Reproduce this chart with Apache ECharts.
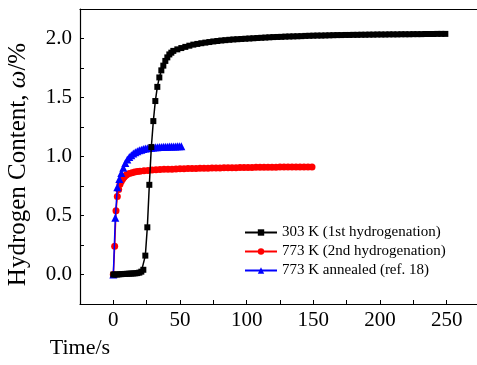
<!DOCTYPE html>
<html>
<head>
<meta charset="utf-8">
<script src="https://cdn.jsdelivr.net/npm/echarts@6/dist/echarts.min.js"></script>
<style>
  html, body { margin: 0; padding: 0; background: #fff; overflow: hidden; }
  #main { width: 477px; height: 365px; }
</style>
</head>
<body>
<div id="main"></div>
<script>
// 303 K (1st hydrogenation)
const t303 = [0, 1.5, 3, 4.5, 6, 7.5, 9, 10.5, 12, 13.5, 15, 16.5, 18, 19.5, 21,
  22.5, 24, 25.5, 27, 28.5, 30, 31.5, 33, 34.5, 36, 37.5, 39, 40.5, 42, 43.5, 45,
  48, 51, 54, 57, 60, 63, 66, 69, 72, 75, 78, 81, 84, 87, 90, 93, 96, 99, 102, 105,
  108, 111, 114, 117, 120, 123, 126, 129, 132, 135, 138, 141, 144, 147, 150, 153,
  156, 159, 162, 165, 168, 171, 174, 177, 180, 183, 186, 189, 192, 195, 198, 201,
  204, 207, 210, 213, 216, 219, 222, 225, 228, 231, 234, 237, 240, 243, 246, 249];
const w303 = [0, 0, 0, 0.002, 0.003, 0.004, 0.005, 0.006, 0.007, 0.008, 0.009, 0.01, 0.012, 0.016, 0.024,
  0.04, 0.16, 0.40, 0.76, 1.08, 1.30, 1.47, 1.59, 1.67, 1.73, 1.77, 1.81, 1.84, 1.865, 1.88, 1.895,
  1.908, 1.919, 1.929, 1.939, 1.948, 1.954, 1.960, 1.965, 1.970, 1.975, 1.979, 1.983, 1.986, 1.989,
  1.992, 1.994, 1.996, 1.998, 2.000, 2.002, 2.004, 2.006, 2.008, 2.010, 2.012, 2.013, 2.014, 2.016,
  2.017, 2.018, 2.019, 2.020, 2.022, 2.023, 2.024, 2.025, 2.025, 2.026, 2.027, 2.028, 2.029, 2.029,
  2.030, 2.030, 2.031, 2.031, 2.032, 2.032, 2.033, 2.033, 2.034, 2.034, 2.034, 2.035, 2.035, 2.035,
  2.036, 2.036, 2.036, 2.037, 2.037, 2.037, 2.038, 2.038, 2.038, 2.039, 2.039, 2.039];

// 773 K (2nd hydrogenation)
const t773 = [0, 1, 2, 3, 4, 5, 6, 7, 8, 9, 10, 12, 14, 16, 18,
  20, 23, 26, 29, 32, 35, 38, 41, 44, 47, 50, 53, 56, 59, 62, 65, 68, 71, 74, 77, 80,
  83, 86, 89, 92, 95, 98, 101, 104, 107, 110, 113, 116, 119, 122, 125, 128, 131, 134,
  137, 140, 143, 146, 149];
const w773 = [0, 0.24, 0.54, 0.66, 0.72, 0.765, 0.79, 0.81, 0.825, 0.837, 0.845, 0.856, 0.863, 0.868, 0.872,
  0.875, 0.879, 0.882, 0.885, 0.887, 0.889, 0.891, 0.892, 0.893, 0.895, 0.896, 0.897, 0.898, 0.899,
  0.899, 0.900, 0.901, 0.901, 0.902, 0.903, 0.903, 0.904, 0.904, 0.905, 0.905, 0.906, 0.906, 0.907,
  0.907, 0.908, 0.908, 0.908, 0.909, 0.909, 0.909, 0.910, 0.910, 0.910, 0.911, 0.911, 0.911, 0.912,
  0.912, 0.912];

// 773 K annealed (ref. 18)
const tAnn = [0, 1.5, 3, 4.5, 6, 7.5, 9, 10.5, 12, 13.5, 15, 16.5, 18, 19.5, 21, 22.5, 24, 25.5,
  27, 28.5, 30, 31.5, 33, 34.5, 36, 37.5, 39, 40.5, 42, 43.5, 45, 46.5, 48, 49.5, 51];
const wAnn = [0, 0.48, 0.74, 0.81, 0.86, 0.905, 0.945, 0.975, 0.995, 1.01, 1.025, 1.035, 1.045, 1.052,
  1.058, 1.063, 1.067, 1.07, 1.073, 1.075, 1.077, 1.078, 1.079, 1.08, 1.081, 1.082, 1.083, 1.083,
  1.084, 1.084, 1.085, 1.085, 1.086, 1.086, 1.086];

const names = ['303 K (1st hydrogenation)', '773 K (2nd hydrogenation)', '773 K annealed (ref. 18)'];
const xTicks = [0, 50, 100, 150, 200, 250];
const yTicks = [0, 0.5, 1.0, 1.5, 2.0];

const font = 'Liberation Serif';
const zip = (t, w) => t.map((x, i) => [x, w[i]]);

const myChart = echarts.init(document.getElementById('main'));
const option = {
  animation: false,
  // plot box runs past the right edge of the window, as in the reference
  grid: { left: 80, top: 9, width: 440, height: 295, containLabel: false, outerBoundsMode: 'none' },
  legend: {
    orient: 'vertical',
    left: 239,
    top: 220,
    itemWidth: 32,
    itemHeight: 8,
    itemGap: 4,
    textStyle: { fontFamily: font, fontSize: 15, color: '#000' },
    data: names
  },
  xAxis: [
    {
      type: 'value', min: -25, max: 305, interval: 25, position: 'bottom',
      axisLine: { onZero: false, lineStyle: { color: '#000', width: 1.2 } },
      axisTick: { inside: true, length: 4, lineStyle: { color: '#000' } },
      axisLabel: { customValues: xTicks, fontFamily: font, fontSize: 21, color: '#000', margin: 6 },
      splitLine: { show: false },
      name: 'Time/s', nameLocation: 'start', nameGap: 0,
      nameTextStyle: {
        fontFamily: font, fontSize: 22, color: '#000',
        align: 'center', verticalAlign: 'top', padding: [33, 0, 0, 0]
      }
    },
    {
      // top frame line
      type: 'value', min: -25, max: 305, position: 'top',
      axisLine: { onZero: false, lineStyle: { color: '#000', width: 1.2 } },
      axisTick: { show: false },
      axisLabel: { show: false },
      splitLine: { show: false }
    }
  ],
  yAxis: {
    type: 'value', min: -0.25, max: 2.25, interval: 0.25, position: 'left',
    axisLine: { show: true, onZero: false, lineStyle: { color: '#000', width: 1.2 } },
    axisTick: { show: true, inside: true, length: 4, lineStyle: { color: '#000' } },
    axisLabel: {
      customValues: yTicks, fontFamily: font, fontSize: 21, color: '#000', margin: 8,
      formatter: (v) => v.toFixed(1)
    },
    splitLine: { show: false },
    name: 'Hydrogen Content, {i|ω}/%', nameLocation: 'middle', nameGap: 49,
    nameTextStyle: {
      fontFamily: font, fontSize: 25, color: '#000', padding: [0, 16, 0, 0],
      rich: { i: { fontFamily: font, fontSize: 25, fontStyle: 'italic', color: '#000' } }
    }
  },
  series: [
    {
      name: names[0], type: 'line', z: 4,
      data: zip(t303, w303),
      symbol: 'rect', symbolSize: 6,
      itemStyle: { color: '#000' },
      lineStyle: { color: '#000', width: 1.5 }
    },
    {
      name: names[1], type: 'line', z: 2,
      data: zip(t773, w773),
      symbol: 'circle', symbolSize: 7,
      itemStyle: { color: '#ff0000' },
      lineStyle: { color: '#ff0000', width: 1.5 }
    },
    {
      name: names[2], type: 'line', z: 3,
      data: zip(tAnn, wAnn),
      symbol: 'triangle', symbolSize: 8,
      itemStyle: { color: '#0000ff' },
      lineStyle: { color: '#0000ff', width: 1.5 }
    }
  ]
};
myChart.setOption(option);
</script>
</body>
</html>
